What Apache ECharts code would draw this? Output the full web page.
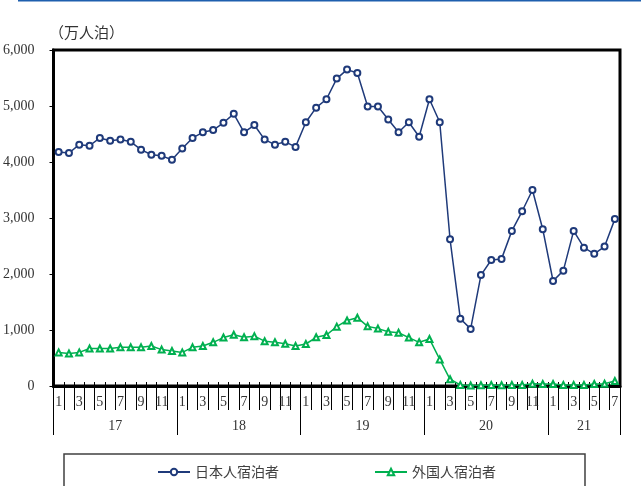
<!DOCTYPE html>
<html>
<head>
<meta charset="utf-8">
<script src="https://cdn.jsdelivr.net/npm/echarts@6/dist/echarts.min.js"></script>
<style>
  html, body { margin: 0; padding: 0; background: #fff; }
  #chart { width: 641px; height: 486px; }
</style>
</head>
<body>
<div id="chart"></div>
<script>
// 年（下段ラベル）と各年の月数
const years = ['17', '18', '19', '20', '21'];
const monthCount = [12, 12, 12, 12, 7];

// 日本人宿泊者（万人泊）
const japanese = [
  4180, 4160, 4310, 4290, 4430, 4380, 4400, 4360, 4220, 4130, 4110, 4040,
  4240, 4430, 4530, 4570, 4700, 4860, 4530, 4660, 4400, 4310, 4360, 4270,
  4710, 4970, 5120, 5490, 5650, 5590, 4990, 4990, 4760, 4530, 4710, 4450,
  5120, 4710, 2620, 1200, 1020, 1980, 2250, 2270, 2770, 3120, 3500, 2800,
  1875, 2060, 2770, 2470, 2360, 2490, 2980
];
// 外国人宿泊者（万人泊）
const foreign = [
  600, 580, 600, 670, 670, 670, 690, 690, 690, 715, 650, 625,
  600, 690, 715, 780, 865, 915, 870, 890, 800, 780, 755, 715,
  750, 870, 910, 1060, 1170, 1220, 1065, 1025, 970, 950, 865, 780,
  840, 475, 120, 20, 10, 15, 20, 15, 20, 20, 40, 35,
  35, 20, 20, 20, 35, 40, 90
];

// 月ラベル
const months = [];
monthCount.forEach(n => {
  for (let m = 1; m <= n; m++) months.push(String(m));
});
// 年の境目と中央
const yearEdges = [0];
monthCount.forEach(n => yearEdges.push(yearEdges[yearEdges.length - 1] + n));
const yearMids = years.map((y, i) => (yearEdges[i] + yearEdges[i + 1]) / 2);

const serif = 'Liberation Serif';
const chart = echarts.init(document.getElementById('chart'));

chart.setOption({
  animation: false,
  title: {
    text: '（万人泊）',
    left: 44,
    top: 20,
    textStyle: { fontFamily: 'Noto Sans CJK JP', fontSize: 15, fontWeight: 'normal', color: '#333' }
  },
  graphic: [{
    type: 'line',
    shape: { x1: 18, y1: 0.75, x2: 641, y2: 0.75 },
    style: { stroke: '#1e5fae', lineWidth: 1.5 }
  }],
  legend: {
    left: 64,
    top: 454,
    padding: [11, 89, 20, 93],
    itemGap: 95,
    itemWidth: 32,
    itemHeight: 8,
    borderColor: '#404040',
    borderWidth: 1.5,
    textStyle: { fontFamily: 'Noto Sans CJK JP', fontSize: 14, color: '#404040' },
    data: ['日本人宿泊者', '外国人宿泊者']
  },
  grid: {
    left: 52, right: 21, top: 50, bottom: 100,
    show: true, borderColor: '#000', borderWidth: 3
  },
  xAxis: [{
    type: 'category',
    data: months,
    boundaryGap: true,
    axisLine: { lineStyle: { color: '#000', width: 3 } },
    axisTick: { show: true, interval: 0, length: 24, lineStyle: { color: '#000', width: 1 } },
    axisLabel: { interval: 1, margin: 9, fontFamily: serif, fontSize: 14, color: '#333' }
  }, {
    type: 'value',
    min: 0,
    max: yearEdges[yearEdges.length - 1],
    position: 'bottom',
    axisLine: { show: false },
    splitLine: { show: false },
    axisTick: { show: true, customValues: yearEdges, length: 49, lineStyle: { color: '#000', width: 1 } },
    axisLabel: {
      customValues: yearMids,
      margin: 33,
      fontFamily: serif, fontSize: 14, color: '#333',
      formatter: v => years[yearMids.indexOf(v)]
    }
  }, {
    type: 'category',
    data: months,
    boundaryGap: true,
    position: 'bottom',
    axisLine: { show: false },
    axisTick: { show: true, inside: true, interval: 0, length: 4, lineStyle: { color: '#000' } },
    axisLabel: { show: false }
  }],
  yAxis: {
    type: 'value',
    min: 0, max: 6000, interval: 1000,
    splitLine: { show: false },
    axisLine: { show: true, lineStyle: { color: '#000', width: 3 } },
    axisTick: { show: true, length: 4, lineStyle: { color: '#000' } },
    axisLabel: {
      margin: 19, fontFamily: serif, fontSize: 14, color: '#333',
      formatter: v => v.toLocaleString('en-US')
    }
  },
  series: [{
    name: '日本人宿泊者',
    type: 'line',
    data: japanese,
    symbol: 'emptyCircle',
    symbolSize: 6,
    color: '#1f3a7a',
    lineStyle: { width: 1.5 },
    itemStyle: { borderWidth: 1.3 }
  }, {
    name: '外国人宿泊者',
    type: 'line',
    data: foreign,
    symbol: 'emptyTriangle',
    symbolSize: 6,
    color: '#00b050',
    lineStyle: { width: 1.5 },
    itemStyle: { borderWidth: 1.3 }
  }]
});
</script>
</body>
</html>
